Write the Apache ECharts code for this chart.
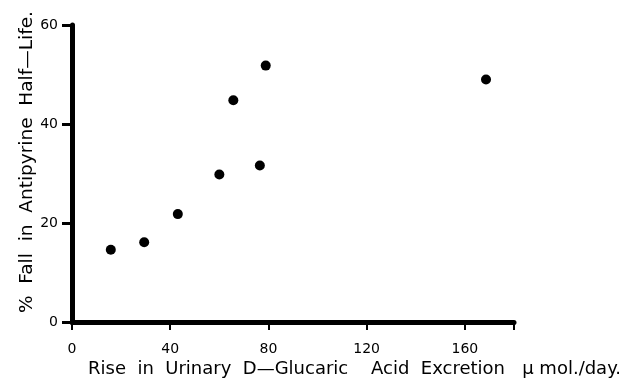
<!DOCTYPE html>
<html>
<head>
<meta charset="utf-8">
<script src="https://cdn.jsdelivr.net/npm/echarts@6/dist/echarts.min.js"></script>
<style>
  html, body { margin: 0; padding: 0; background: #fff; }
  #chart { width: 624px; height: 378px; }
</style>
</head>
<body>
<div id="chart"></div>
<script>
// glucaric acid rise (umol/day) vs % fall in antipyrine half-life
const glucaricRise = [15.8, 29.4, 43.1, 60.0, 76.5, 65.7, 78.9, 168.6];
const halfLifeFall = [14.6, 16.1, 21.8, 29.8, 31.6, 44.8, 51.8, 49.0];
const xTicks = [0, 40, 80, 120, 160];
const yTicks = [0, 20, 40, 60];

const xName = 'Rise  in  Urinary  D\u2014Glucaric    Acid  Excretion   \u03bc mol./day.';
const yName = '%  Fall  in  Antipyrine  Half\u2014Life.';

const chart = echarts.init(document.getElementById('chart'), null, { renderer: 'canvas' });
const font = 'DejaVu Sans';

chart.setOption({
  animation: false,
  backgroundColor: '#fff',
  grid: { left: 72, right: 110, top: 25, bottom: 56 },
  xAxis: {
    type: 'value',
    min: 0, max: 180, interval: 40,
    axisLine: { onZero: false, lineStyle: { color: '#000', width: 5 } },
    axisTick: { length: 8, lineStyle: { color: '#000', width: 2 } },
    axisLabel: {
      color: '#000', fontFamily: font, fontSize: 14, margin: 20,
      formatter: v => xTicks.includes(v) ? String(v) : ''
    },
    splitLine: { show: false }
  },
  yAxis: {
    type: 'value',
    min: 0, max: 60, interval: 20,
    axisLine: { lineStyle: { color: '#000', width: 5 } },
    axisTick: { length: 10, lineStyle: { color: '#000', width: 3 } },
    axisLabel: {
      color: '#000', fontFamily: font, fontSize: 14, margin: 14,
      formatter: v => yTicks.includes(v) ? String(v) : ''
    },
    splitLine: { show: false }
  },
  graphic: [
    {
      type: 'text',
      left: 88, top: 360,
      style: { text: xName, fill: '#000', font: '18px "' + font + '"' }
    },
    {
      type: 'text',
      x: 18, y: 313,
      rotation: Math.PI / 2,
      style: { text: yName, fill: '#000', font: '18.5px "' + font + '"' }
    }
  ],
  series: [{
    type: 'scatter',
    symbol: 'circle',
    symbolSize: 10,
    itemStyle: { color: '#000', opacity: 1 },
    data: glucaricRise.map((x, i) => [x, halfLifeFall[i]])
  }]
});
</script>
</body>
</html>
